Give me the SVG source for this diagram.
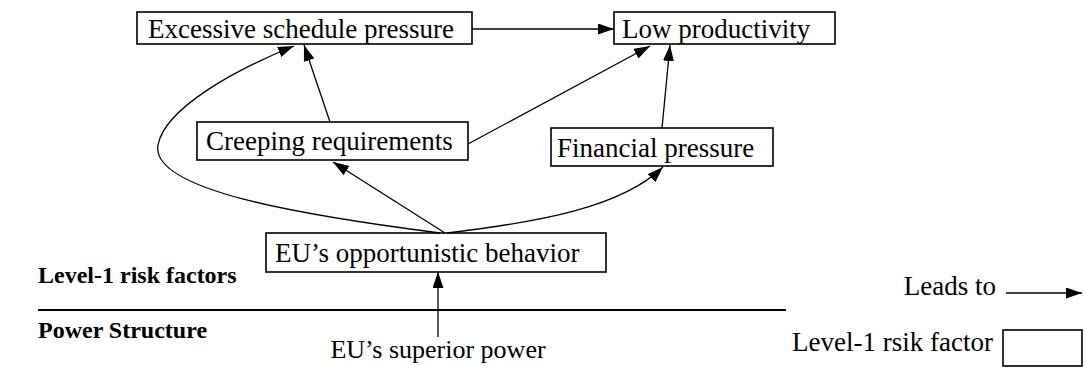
<svg xmlns="http://www.w3.org/2000/svg" width="1086" height="373" viewBox="0 0 1086 373">
  <style>
    .box { fill: #ffffff; stroke: #000000; stroke-width: 1.6; }
    text { font-family: 'Liberation Serif', 'Times New Roman', Times, 'DejaVu Serif', serif; fill: #000000; }
    .lbl { font-size: 27px; }
    .sm { font-size: 26px; }
    .hdr { font-size: 24px; font-weight: bold; }
    .edge { fill: none; stroke: #000000; stroke-width: 1.3; marker-end: url(#arrow); }
    .rule { stroke: #000000; stroke-width: 2; }
  </style>
  <defs>
    <marker id="arrow" markerUnits="userSpaceOnUse" markerWidth="18" markerHeight="12" refX="16" refY="5.5" orient="auto">
      <path d="M0,0 L16,5.5 L0,11 z" fill="#000000"/>
    </marker>
  </defs>
  <rect width="1086" height="373" fill="#ffffff"/>

  <!-- section headings and divider -->
  <g id="sections">
    <text class="hdr" x="38" y="283">Level-1 risk factors</text>
    <line class="rule" x1="38" y1="310" x2="786" y2="310"/>
    <text class="hdr" x="38" y="338">Power Structure</text>
  </g>

  <!-- nodes -->
  <g id="excessive-schedule-pressure">
    <rect class="box" x="137" y="12" width="335" height="32"/>
    <text class="lbl" x="148" y="38">Excessive schedule pressure</text>
  </g>
  <g id="low-productivity">
    <rect class="box" x="614" y="12" width="221" height="32"/>
    <text class="lbl" x="622" y="38">Low productivity</text>
  </g>
  <g id="creeping-requirements">
    <rect class="box" x="197" y="122" width="271" height="38"/>
    <text class="lbl" x="206" y="150">Creeping requirements</text>
  </g>
  <g id="financial-pressure">
    <rect class="box" x="551" y="128" width="222" height="38"/>
    <text class="lbl" x="557" y="157">Financial pressure</text>
  </g>
  <g id="eu-opportunistic-behavior">
    <rect class="box" x="266" y="233" width="340" height="39"/>
    <text class="lbl" x="275" y="262">EU’s opportunistic behavior</text>
  </g>
  <g id="eu-superior-power">
    <text class="sm" x="438" y="358" text-anchor="middle">EU’s superior power</text>
  </g>

  <!-- connectors -->
  <g id="connectors">
    <path class="edge" d="M472,29 L614,29"/>
    <path class="edge" d="M330,122 L304,45"/>
    <path class="edge" d="M440,233 C300,215 150,190 158,145 C165,108 235,70 294,46"/>
    <path class="edge" d="M445,233 L333,162"/>
    <path class="edge" d="M447,233 C540,222 622,207 663,167"/>
    <path class="edge" d="M468,144 L650,46"/>
    <path class="edge" d="M662,128 L670,45"/>
    <path class="edge" d="M438,337 L438,272"/>
  </g>

  <!-- legend -->
  <g id="legend">
    <text class="lbl" x="996" y="295" text-anchor="end">Leads to</text>
    <path class="edge" d="M1006,293 L1082,293"/>
    <text class="lbl" x="993" y="351" text-anchor="end">Level-1 rsik factor</text>
    <rect class="box" x="1003" y="330" width="79" height="36"/>
  </g>
</svg>
